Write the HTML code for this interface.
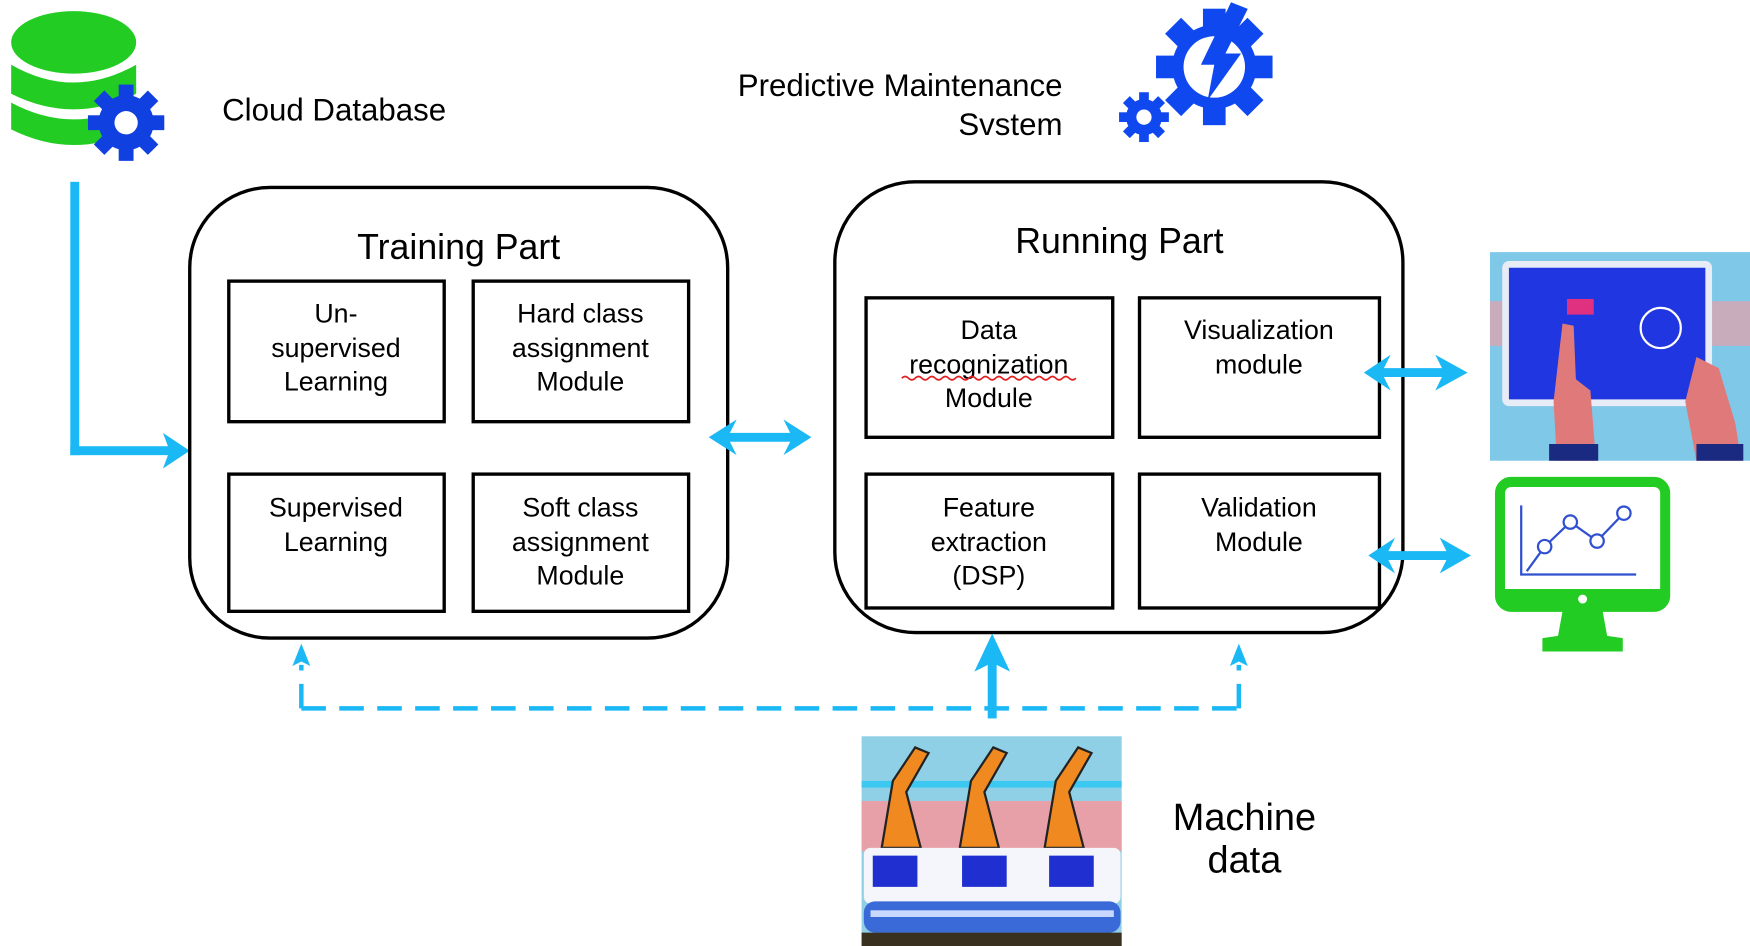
<!DOCTYPE html>
<html><head><meta charset="utf-8"><style>
html,body{margin:0;padding:0;background:#fff;width:1750px;height:946px;overflow:hidden}
svg{display:block}
text{font-family:"Liberation Sans",Arial,sans-serif;fill:#000}
</style></head><body>
<svg width="1750" height="946" viewBox="0 0 1568 848" preserveAspectRatio="none" xmlns="http://www.w3.org/2000/svg">
<defs>
<g id="gear">
  <circle r="26" fill="currentColor"/>
  <g fill="currentColor">
    <rect x="-7" y="-36" width="14" height="72"/>
    <rect x="-7" y="-36" width="14" height="72" transform="rotate(45)"/>
    <rect x="-7" y="-36" width="14" height="72" transform="rotate(90)"/>
    <rect x="-7" y="-36" width="14" height="72" transform="rotate(135)"/>
  </g>
  <circle r="11" fill="#fff"/>
</g>
</defs>

<!-- Cloud DB icon -->
<g fill="#22cc22">
  <ellipse cx="66" cy="38" rx="56" ry="28"/>
  <path d="M10 58 Q66 90 122 58 L122 84 Q66 112 10 84Z"/>
  <path d="M10 92 Q66 122 122 92 L122 116 Q66 144 10 116Z"/>
</g>
<g style="color:#1040e0" transform="translate(113,110) scale(0.95)"><use href="#gear"/></g>
<text x="199" y="108" font-size="28">Cloud Database</text>

<!-- Predictive maintenance -->
<text x="952" y="86" font-size="28" text-anchor="end">Predictive Maintenance</text>
<text x="952" y="121" font-size="28" text-anchor="end">Svstem</text>
<g style="color:#1048f0">
  <g transform="translate(1088,60) scale(1.45)"><circle r="26" fill="currentColor"/><g fill="currentColor"><rect x="-7" y="-36" width="14" height="72"/><rect x="-7" y="-36" width="14" height="72" transform="rotate(45)"/><rect x="-7" y="-36" width="14" height="72" transform="rotate(90)"/><rect x="-7" y="-36" width="14" height="72" transform="rotate(135)"/></g><circle r="19" fill="#fff"/></g>
  <g transform="translate(1025,105) scale(0.62)"><use href="#gear"/></g>
</g>
<path d="M1103 2 L1118 8 L1098 48 L1112 48 L1082 90 L1088 58 L1076 58Z" fill="#1048f0"/>

<!-- L arrow from DB -->
<g fill="#1ab8f5" stroke="none">
  <rect x="63" y="163" width="8" height="245"/>
  <rect x="63" y="400" width="90" height="8"/>
  <path d="M146 388 L170 404 L146 420 L152 404Z"/>
</g>

<!-- Training Part -->
<rect x="170" y="168" width="482" height="404" rx="72" fill="none" stroke="#000" stroke-width="3"/>
<text x="411" y="232" font-size="32" text-anchor="middle">Training Part</text>
<g fill="none" stroke="#000" stroke-width="3">
  <rect x="205" y="252" width="193" height="126"/>
  <rect x="424" y="252" width="193" height="126"/>
  <rect x="205" y="425" width="193" height="123"/>
  <rect x="424" y="425" width="193" height="123"/>
</g>
<g font-size="24" text-anchor="middle">
  <text x="301" y="289">Un-</text><text x="301" y="320">supervised</text><text x="301" y="350">Learning</text>
  <text x="520" y="289">Hard class</text><text x="520" y="320">assignment</text><text x="520" y="350">Module</text>
  <text x="301" y="463">Supervised</text><text x="301" y="494">Learning</text>
  <text x="520" y="463">Soft class</text><text x="520" y="494">assignment</text><text x="520" y="524">Module</text>
</g>

<!-- Running Part -->
<rect x="748" y="163" width="509" height="404" rx="72" fill="none" stroke="#000" stroke-width="3"/>
<text x="1003" y="227" font-size="32" text-anchor="middle">Running Part</text>
<g fill="none" stroke="#000" stroke-width="3">
  <rect x="776" y="267" width="221" height="125"/>
  <rect x="1021" y="267" width="215" height="125"/>
  <rect x="776" y="425" width="221" height="120"/>
  <rect x="1021" y="425" width="215" height="120"/>
</g>
<g font-size="24" text-anchor="middle">
  <text x="886" y="304">Data</text><text x="886" y="335">recognization</text><text x="886" y="365">Module</text>
  <text x="1128" y="304">Visualization</text><text x="1128" y="335">module</text>
  <text x="886" y="463">Feature</text><text x="886" y="494">extraction</text><text x="886" y="524">(DSP)</text>
  <text x="1128" y="463">Validation</text><text x="1128" y="494">Module</text>
</g>
<path d="M808 339 q3 -3 6 0 t6 0 t6 0 t6 0 t6 0 t6 0 t6 0 t6 0 t6 0 t6 0 t6 0 t6 0 t6 0 t6 0 t6 0 t6 0 t6 0 t6 0 t6 0 t6 0 t6 0 t6 0 t6 0 t6 0 t6 0 t6 0" fill="none" stroke="#e02020" stroke-width="1.5"/>

<!-- double arrows -->
<g fill="#1ab8f5">
  <path d="M635 392 L660 376 L654 388 L708 388 L702 376 L727 392 L702 408 L708 396 L654 396 L660 408Z"/>
  <path d="M1222 334 L1246 318 L1240 330 L1292 330 L1286 318 L1315 334 L1286 350 L1292 338 L1240 338 L1246 350Z"/>
  <path d="M1226 498 L1250 482 L1244 494 L1296 494 L1290 482 L1318 498 L1290 514 L1296 502 L1244 502 L1250 514Z"/>
</g>

<!-- dashed connectors -->
<g stroke="#1ab8f5" stroke-width="4" fill="none">
  <path d="M270 635 L1115 635" stroke-dasharray="22 12"/>
  <path d="M270 635 L270 596" stroke-dasharray="22 12"/>
  <path d="M1110 635 L1110 596" stroke-dasharray="22 12"/>
</g>
<g fill="#1ab8f5">
  <path d="M262 597 L270 577 L278 597 L270 593Z"/>
  <path d="M1102 597 L1110 577 L1118 597 L1110 593Z"/>
  <rect x="885" y="592" width="8" height="52"/>
  <path d="M873 602 L889 568 L905 602 L889 594Z"/>
</g>

<!-- Machine image -->
<g>
  <rect x="772" y="660" width="233" height="188" fill="#8fd0e6"/>
  <rect x="772" y="718" width="233" height="45" fill="#e8a0a8"/>
  <rect x="772" y="700" width="233" height="6" fill="#3cc8f0"/>
  <g fill="#f08a20" stroke="#222" stroke-width="2">
    <path d="M790 760 L800 700 L820 670 L832 675 L812 710 L825 760Z"/>
    <path d="M860 760 L870 700 L890 670 L902 675 L882 710 L895 760Z"/>
    <path d="M936 760 L946 700 L966 670 L978 675 L958 710 L971 760Z"/>
  </g>
  <rect x="774" y="760" width="230" height="50" rx="6" fill="#f4f6fb"/>
  <g fill="#2030d0"><rect x="782" y="767" width="40" height="28"/><rect x="862" y="767" width="40" height="28"/><rect x="940" y="767" width="40" height="28"/></g>
  <rect x="774" y="808" width="230" height="28" rx="10" fill="#3a6ad8"/>
  <rect x="780" y="816" width="218" height="6" fill="#c8d8ff"/>
  <rect x="772" y="836" width="233" height="12" fill="#3a3020"/>
</g>
<text x="1115" y="744" font-size="34" text-anchor="middle">Machine</text>
<text x="1115" y="782" font-size="34" text-anchor="middle">data</text>

<!-- Tablet image -->
<g>
  <rect x="1335" y="226" width="233" height="187" fill="#7fc8e8"/>
  <rect x="1335" y="270" width="233" height="40" fill="#e8a0a8" opacity="0.7"/>
  <rect x="1346" y="234" width="188" height="130" rx="6" fill="#e8ecf6"/>
  <rect x="1352" y="240" width="176" height="118" fill="#2036e0"/>
  <circle cx="1488" cy="294" r="18" fill="none" stroke="#fff" stroke-width="2"/>
  <rect x="1404" y="268" width="24" height="14" fill="#e03080"/>
  <path d="M1395 413 L1392 360 L1400 290 L1410 292 L1412 340 L1425 350 L1430 413Z" fill="#e07a7a"/>
  <path d="M1520 413 L1510 360 L1520 320 L1540 330 L1555 380 L1560 413Z" fill="#e07a7a"/>
  <rect x="1388" y="398" width="44" height="15" fill="#1a2a80"/>
  <rect x="1520" y="398" width="42" height="15" fill="#1a2a80"/>
</g>

<!-- Monitor -->
<g>
  <rect x="1344" y="432" width="148" height="112" rx="10" fill="#fff" stroke="#22cc22" stroke-width="9"/>
  <rect x="1344" y="528" width="148" height="16" fill="#22cc22"/>
  <circle cx="1418" cy="537" r="4" fill="#fff"/>
  <path d="M1400 548 L1436 548 L1440 570 L1454 572 L1454 584 L1382 584 L1382 572 L1396 570Z" fill="#22cc22"/>
  <path d="M1363 453 L1363 515 L1466 515" fill="none" stroke="#3050d0" stroke-width="2"/>
  <polyline points="1368,512 1384,490 1407,468 1431,485 1455,460" fill="none" stroke="#3050d0" stroke-width="2"/>
  <g fill="#fff" stroke="#3050d0" stroke-width="2">
    <circle cx="1384" cy="490" r="6"/><circle cx="1407" cy="468" r="6"/><circle cx="1431" cy="485" r="6"/><circle cx="1455" cy="460" r="6"/>
  </g>
</g>
</svg>
</body></html>
